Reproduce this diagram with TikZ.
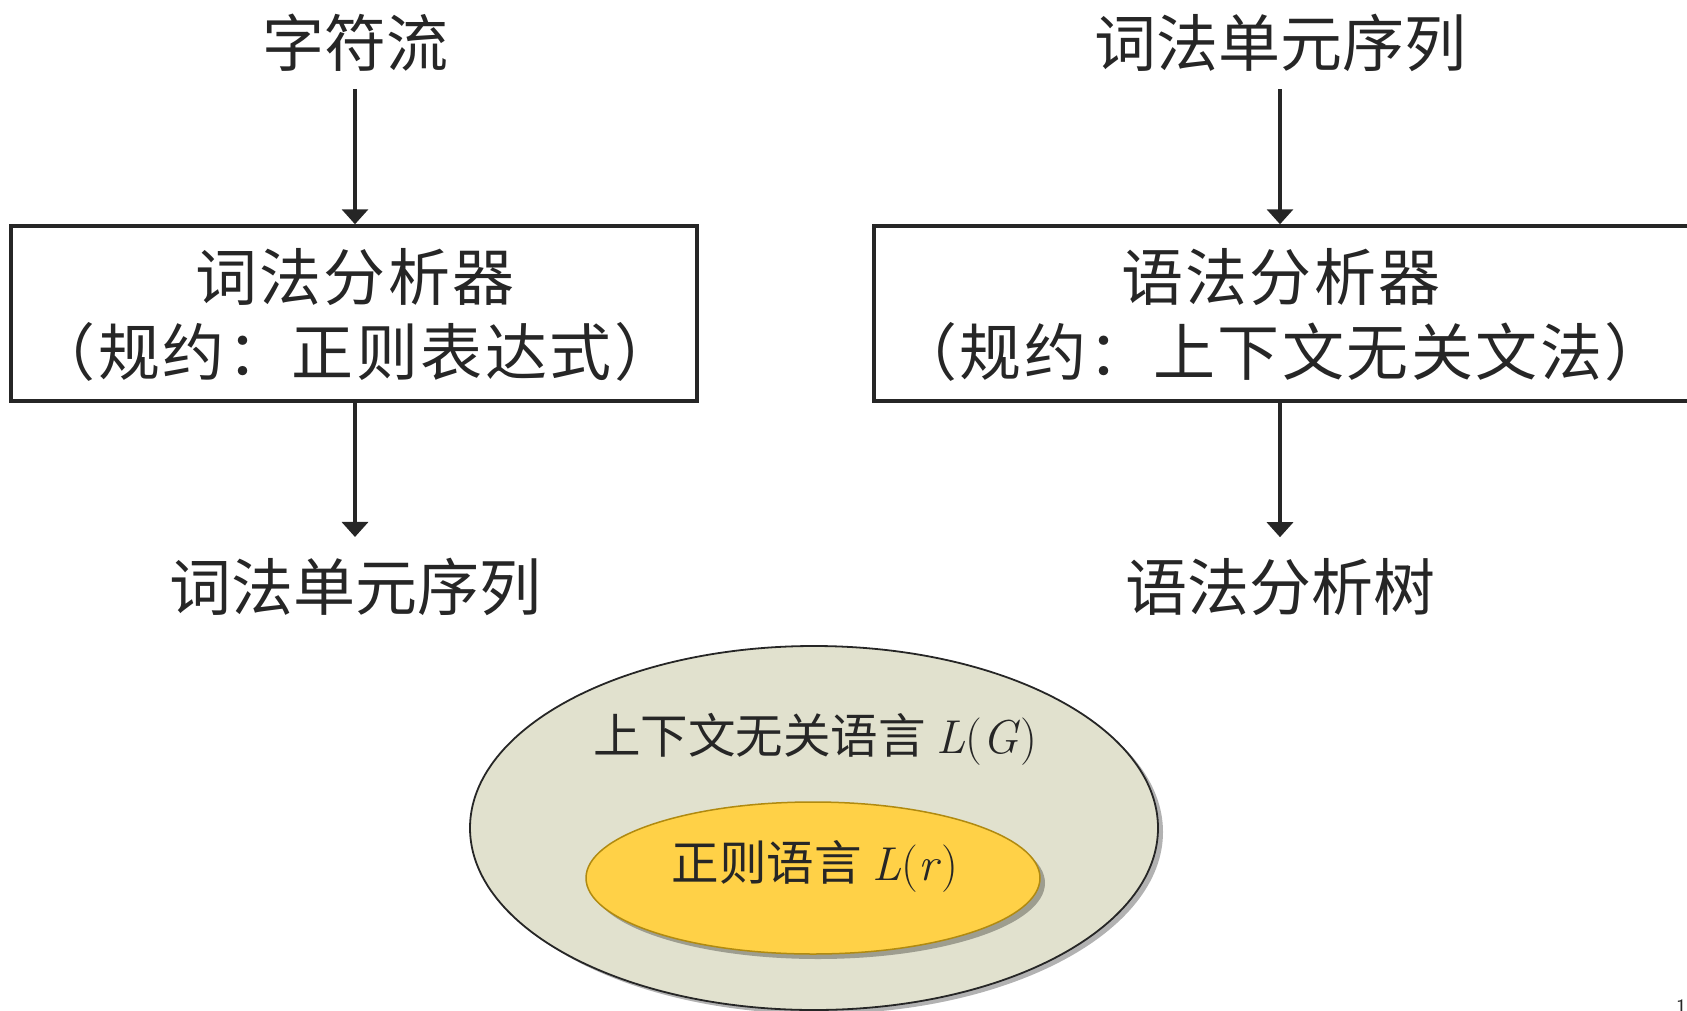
\documentclass[tikz,border=0pt]{standalone}
\usepackage{fontspec}
\newfontfamily\cjk{Noto Sans CJK SC}
\usetikzlibrary{arrows.meta,shapes.geometric,shadows}
\definecolor{ink}{HTML}{262626}
\definecolor{cflfill}{HTML}{E1E1CE}
\definecolor{regfill}{HTML}{FFD147}
\definecolor{regline}{HTML}{B08A10}
\begin{document}
\begin{tikzpicture}[x=1pt,y=-1pt,
  txt/.style={font=\cjk\fontsize{62}{75}\selectfont, text=ink, inner sep=0pt},
  proctxt/.style={txt, align=center, font=\cjk\fontsize{62}{75}\selectfont\addfontfeature{LetterSpace=4}},
  procbox/.style={draw=ink, line width=3.5pt, rectangle, inner sep=0pt},
  flow/.style={draw=ink, line width=3.5pt, -{Triangle[width=26pt,length=15pt]}},
  langtxt/.style={font=\cjk\fontsize{47.5}{50}\selectfont, text=ink, inner sep=0pt},
]
\useasboundingbox (0,0) rectangle (1687,1010);

% left column
\node[txt] (chars) at (355,43) {字符流};
\node[procbox, minimum width=686pt, minimum height=175pt] (lexbox) at (354,313.5) {};
\node[proctxt] (lextxt) at (355,315) {词法分析器\\（规约：正则表达式）};
\node[txt] (tokens) at (355,587) {词法单元序列};
\draw[flow, shorten <=17pt] (chars.south) -- (chars.south |- lexbox.north);
\draw[flow, shorten >=21pt] (tokens.north |- lexbox.south) -- (tokens.north);

% right column
\node[txt] (tokensin) at (1280,43) {词法单元序列};
\node[procbox, minimum width=830pt, minimum height=175pt] (synbox) at (1289,313.5) {};
\node[proctxt] (syntxt) at (1281,315) {语法分析器\\（规约：上下文无关文法）};
\node[txt] (tree) at (1280,587) {语法分析树};
\draw[flow, shorten <=17pt] (tokensin.south) -- (tokensin.south |- synbox.north);
\draw[flow, shorten >=21pt] (tree.north |- synbox.south) -- (tree.north);

% language inclusion
\node[ellipse, draw=ink, line width=1.8pt, fill=cflfill, minimum width=688pt, minimum height=364pt, inner sep=0pt,
      drop shadow={shadow xshift=5pt, shadow yshift=-4pt, opacity=0.3, fill=black}] (cfl) at (814,828) {};
\node[ellipse, draw=regline, line width=1.5pt, fill=regfill, minimum width=454pt, minimum height=152pt, inner sep=0pt,
      drop shadow={shadow xshift=5pt, shadow yshift=-5pt, opacity=0.3, fill=black}] (reg) at (813,878) {};
\node[langtxt] (cfltxt) at (815,739) {上下文无关语言 \textrm{\textit{L}(\textit{G})}};
\node[langtxt] (regtxt) at (815,866) {正则语言 \textrm{\textit{L}(\textit{r})}};

% page number (clipped at the corner)
\node[anchor=north west, font=\sffamily\fontsize{22}{22}\selectfont, text=ink, inner sep=0pt] (pagenum) at (1676,1000) {1};
\end{tikzpicture}
\end{document}
